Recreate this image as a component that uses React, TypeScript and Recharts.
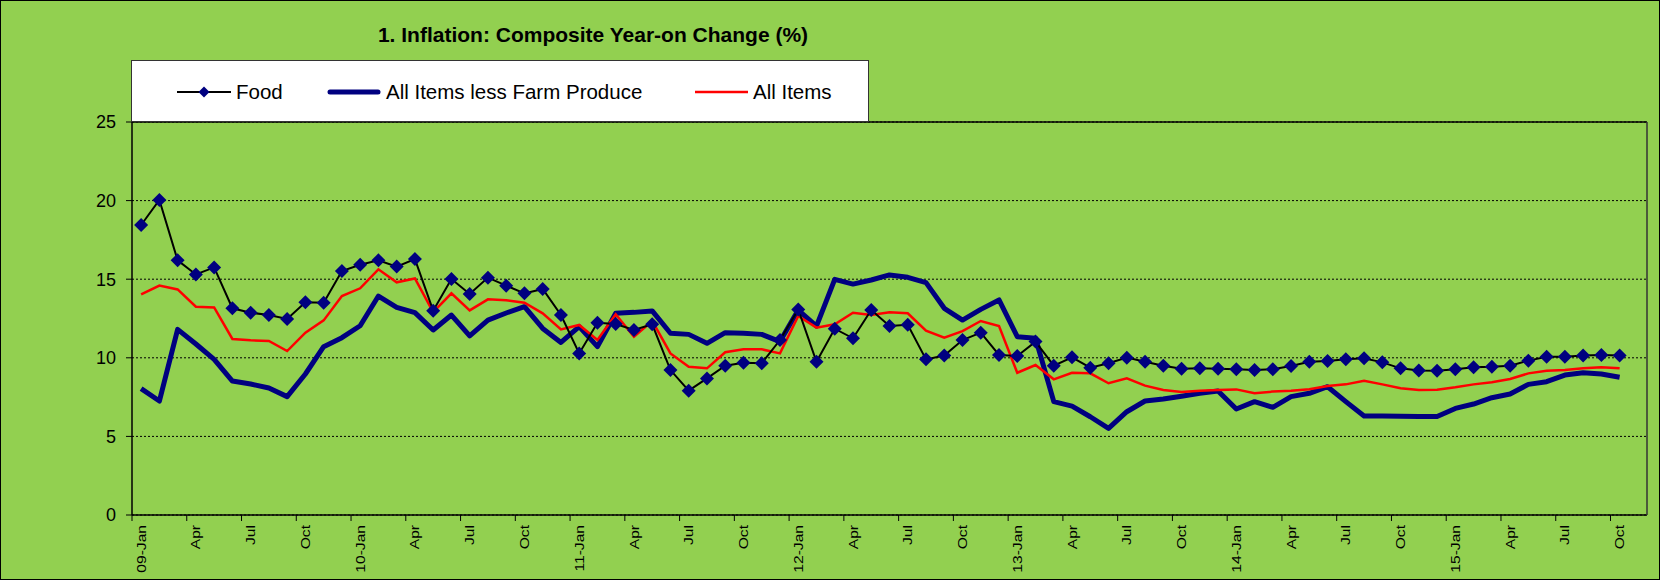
import { LineChart, Line, XAxis, YAxis, CartesianGrid, ReferenceLine } from "recharts"

// month labels: Jan carries the year, other months just the name
const years = ["09", "10", "11", "12", "13", "14", "15"]
const monthNames = ["Jan", "Feb", "Mar", "Apr", "May", "Jun", "Jul", "Aug", "Sep", "Oct", "Nov", "Dec"]
const months: string[] = []
years.forEach((yy) => {
  monthNames.forEach((m) => {
    if (yy === "15" && (m === "Nov" || m === "Dec")) return
    months.push(m === "Jan" ? `${yy}-Jan` : m)
  })
})

const food = [
  18.45, 20.04, 16.2, 15.3, 15.75, 13.15, 12.87, 12.72, 12.47, 13.53, 13.5, 15.52,
  15.92, 16.2, 15.8, 16.28, 13.0, 15.01, 14.06, 15.1, 14.59, 14.1, 14.38, 12.72,
  10.28, 12.23, 12.15, 11.77, 12.13, 9.22, 7.91, 8.69, 9.5, 9.69, 9.65, 11.13,
  13.08, 9.75, 11.85, 11.24, 13.04, 12.02, 12.1, 9.9, 10.14, 11.13, 11.6, 10.18,
  10.11, 11.03, 9.5, 10.03, 9.37, 9.65, 10.01, 9.75, 9.5, 9.31, 9.33, 9.31,
  9.27, 9.22, 9.27, 9.48, 9.75, 9.8, 9.9, 9.97, 9.71, 9.33, 9.2, 9.18,
  9.27, 9.4, 9.43, 9.5, 9.82, 10.07, 10.07, 10.14, 10.18, 10.14,
]

const allLessFarm = [
  8.04, 7.25, 11.81, 10.88, 9.9, 8.52, 8.33, 8.08, 7.53, 8.97, 10.71, 11.28,
  12.04, 13.93, 13.21, 12.87, 11.77, 12.72, 11.39, 12.4, 12.85, 13.25, 11.87, 10.98,
  11.98, 10.71, 12.83, 12.89, 12.98, 11.56, 11.49, 10.92, 11.6, 11.56, 11.49, 11.03,
  13.04, 12.02, 14.99, 14.69, 14.95, 15.27, 15.12, 14.78, 13.15, 12.4, 13.08, 13.68,
  11.34, 11.24, 7.21, 6.93, 6.25, 5.51, 6.57, 7.25, 7.38, 7.55, 7.74, 7.89,
  6.74, 7.21, 6.85, 7.53, 7.74, 8.16, 7.21, 6.3, 6.3, 6.28, 6.27, 6.27,
  6.78, 7.06, 7.46, 7.7, 8.31, 8.48, 8.9, 9.05, 8.97, 8.76,
]

const allItems = [
  14.04, 14.59, 14.35, 13.25, 13.2, 11.2, 11.11, 11.07, 10.43, 11.6, 12.38, 13.93,
  14.42, 15.63, 14.8, 15.05, 12.91, 14.1, 13.02, 13.72, 13.66, 13.5, 12.83, 11.81,
  12.09, 11.13, 12.77, 11.34, 12.34, 10.28, 9.43, 9.33, 10.35, 10.54, 10.54, 10.28,
  12.66, 11.92, 12.13, 12.87, 12.72, 12.89, 12.83, 11.73, 11.28, 11.7, 12.34, 12.02,
  9.05, 9.54, 8.63, 9.05, 9.01, 8.38, 8.69, 8.23, 7.95, 7.82, 7.91, 7.95,
  7.99, 7.74, 7.85, 7.9, 8.0, 8.2, 8.31, 8.54, 8.31, 8.06, 7.95, 7.97,
  8.12, 8.31, 8.44, 8.65, 9.01, 9.18, 9.22, 9.33, 9.4, 9.33,
]

const yTicks = [0, 5, 10, 15, 20, 25]

const data = months.map((m, i) => ({
  month: m,
  food: food[i],
  core: allLessFarm[i],
  all: allItems[i],
}))

const FONT = "'Liberation Sans', Arial, sans-serif"
const GREEN = "#92D050"
const NAVY = "#000080"
const PLOT_BOTTOM = 515
// plot is 1515px wide and holds 83 month slots, last one empty
const HALF_BAND = 1515 / 83 / 2

function MonthTick({ x, payload }: any) {
  const bx = x - HALF_BAND
  return (
    <g>
      <line x1={bx} x2={bx} y1={PLOT_BOTTOM} y2={PLOT_BOTTOM + 6} stroke="#000" strokeWidth={1} />
      <text
        transform={`translate(${x},${PLOT_BOTTOM + 10}) rotate(-90) scale(1.2,1)`}
        textAnchor="end"
        dy="0.35em"
        fontSize={13}
        fontFamily={FONT}
        fill="#000"
      >
        {payload.value}
      </text>
    </g>
  )
}

function Diamond({ cx, cy }: any) {
  if (cx == null || cy == null) return null
  const r = 7
  return <polygon points={`${cx},${cy - r} ${cx + r},${cy} ${cx},${cy + r} ${cx - r},${cy}`} fill={NAVY} />
}

function LegendBox() {
  const text = { fontFamily: FONT, fontSize: 20.5, lineHeight: 1, color: "#000", whiteSpace: "nowrap" as const }
  const item = { position: "absolute" as const, top: 0, height: 62, display: "flex", alignItems: "center" }
  return (
    <div style={{ position: "absolute", left: 130, top: 59, width: 738, height: 62, background: "#fff", border: "1px solid #333", boxSizing: "border-box" }}>
      <div style={{ ...item, left: 45 }}>
        <svg width={54} height={14} style={{ marginRight: 5 }}>
          <line x1={0} x2={54} y1={7} y2={7} stroke="#000" strokeWidth={2} />
          <polygon points="27,1.5 32.5,7 27,12.5 21.5,7" fill={NAVY} />
        </svg>
        <span style={text}>Food</span>
      </div>
      <div style={{ ...item, left: 195 }}>
        <svg width={54} height={14} style={{ marginRight: 5 }}>
          <line x1={3} x2={51} y1={7} y2={7} stroke={NAVY} strokeWidth={5} strokeLinecap="round" />
        </svg>
        <span style={text}>All Items less Farm Produce</span>
      </div>
      <div style={{ ...item, left: 563 }}>
        <svg width={53} height={14} style={{ marginRight: 5 }}>
          <line x1={0} x2={53} y1={7} y2={7} stroke="#ff0000" strokeWidth={2.5} />
        </svg>
        <span style={text}>All Items</span>
      </div>
    </div>
  )
}

export default function App() {
  return (
    <div style={{ position: "absolute", left: 0, top: 0, width: 1660, height: 580, background: GREEN, border: "1px solid #000", boxSizing: "border-box", overflow: "hidden" }}>
      <div style={{ position: "absolute", left: 192, top: 23, width: 800, textAlign: "center", fontFamily: FONT, fontWeight: "bold", fontSize: 21, lineHeight: 1, color: "#000" }}>
        1. Inflation: Composite Year-on Change (%)
      </div>
      <div style={{ position: "absolute", left: -1, top: -1 }}>
        <LineChart width={1660} height={580} data={data} margin={{ top: 122, right: 0, bottom: 0, left: 0 }}>
          <CartesianGrid vertical={false} stroke="#000" strokeDasharray="2 2" />
          <XAxis
            dataKey="month"
            interval={2}
            height={65}
            padding={{ left: HALF_BAND, right: HALF_BAND * 3 }}
            tickLine={false}
            axisLine={{ stroke: "#000", strokeWidth: 1.5 }}
            tick={<MonthTick />}
          />
          <YAxis
            domain={[0, 25]}
            ticks={yTicks}
            width={132}
            tickSize={6}
            tickMargin={10}
            axisLine={{ stroke: "#000", strokeWidth: 1.5 }}
            tickLine={{ stroke: "#000" }}
            tick={{ fontSize: 18, fill: "#000", fontFamily: FONT }}
          />
          <YAxis yAxisId="r" orientation="right" domain={[0, 25]} width={13} tick={false} tickLine={false} axisLine={{ stroke: "#333", strokeWidth: 1.5 }} />
          <ReferenceLine y={25} stroke="#000" strokeWidth={1.5} />
          <Line dataKey="core" stroke={NAVY} strokeWidth={5} dot={false} strokeLinejoin="round" isAnimationActive={false} />
          <Line dataKey="all" stroke="#ff0000" strokeWidth={2.5} dot={false} isAnimationActive={false} />
          <Line dataKey="food" stroke="#000" strokeWidth={2} dot={<Diamond />} activeDot={false} isAnimationActive={false} />
        </LineChart>
      </div>
      <LegendBox />
    </div>
  )
}
